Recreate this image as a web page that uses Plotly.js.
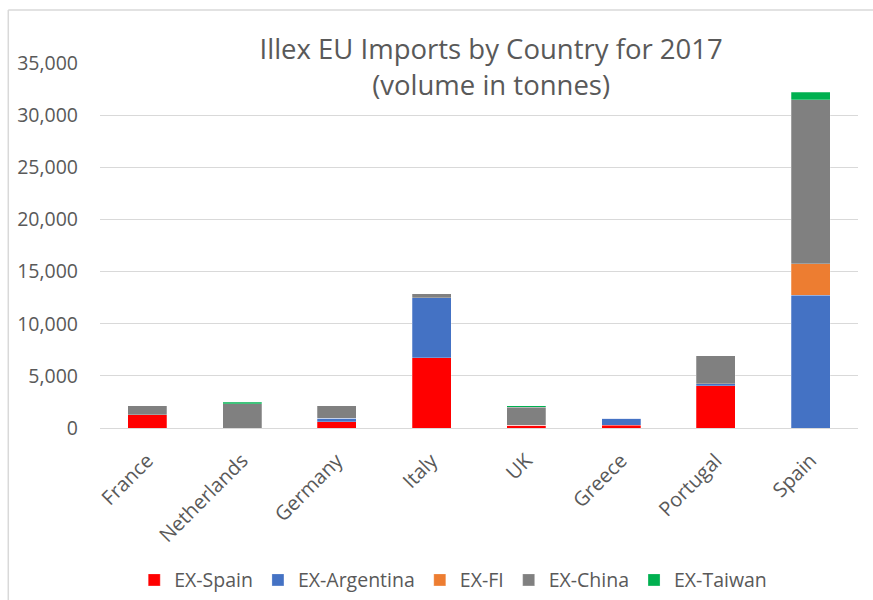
<!DOCTYPE html>
<html>
<head>
<meta charset="utf-8">
<script src="https://cdn.plot.ly/plotly-3.0.1.min.js"></script>
<style>html,body{margin:0;padding:0;background:#fff;}#chart{width:873px;height:600px;}</style>
</head>
<body>
<div id="chart"></div>
<script>
var countries = ["France", "Netherlands", "Germany", "Italy", "UK", "Greece", "Portugal", "Spain"];
var exSpain     = [1280, 0, 610, 6750, 250, 250, 4030, 0];
var exArgentina = [0, 0, 320, 5750, 0, 680, 190, 12720];
var exFI        = [0, 0, 0, 0, 0, 0, 0, 3040];
var exChina     = [870, 2340, 1220, 390, 1760, 0, 2720, 15730];
var exTaiwan    = [0, 120, 0, 0, 140, 0, 0, 700];
var seriesNames = ["EX-Spain", "EX-Argentina", "EX-FI", "EX-China", "EX-Taiwan"];
var seriesColors = ["#FF0000", "#4472C4", "#ED7D31", "#808080", "#00B050"];
var tickVals = [0, 5000, 10000, 15000, 20000, 25000, 30000, 35000];

var allSeries = [exSpain, exArgentina, exFI, exChina, exTaiwan];
var traces = allSeries.map(function (vals, i) {
  return {
    type: "bar",
    name: seriesNames[i],
    x: countries,
    y: vals,
    marker: { color: seriesColors[i], line: { color: "rgba(255,255,255,0.5)", width: 0.5 } },
    hoverinfo: "x+y+name"
  };
});

var font = "Open Sans, Noto Sans, sans-serif";
var layout = {
  width: 873, height: 600,
  barmode: "stack",
  bargap: 0.59,
  paper_bgcolor: "#fff", plot_bgcolor: "#fff",
  margin: { l: 100, r: 15, t: 63, b: 172 },
  font: { family: font, color: "#595959" },
  title: {
    text: "Illex EU Imports by Country for 2017<br>(volume in tonnes)",
    font: { family: font, size: 27.5, color: "#595959" },
    x: 0.516, xanchor: "center", xref: "paper",
    y: 0.902, yanchor: "top", yref: "container"
  },
  xaxis: {
    type: "category",
    automargin: false,
    tickangle: -45,
    tickfont: { size: 20, color: "#595959" },
    showgrid: false,
    showline: true, linecolor: "#D9D9D9", linewidth: 1,
    ticks: "", ticklabelstandoff: 12
  },
  yaxis: {
    automargin: false,
    range: [0, 35000],
    tickvals: tickVals,
    tickformat: ",d",
    tickfont: { size: 19.5, color: "#595959" },
    gridcolor: "#D9D9D9", gridwidth: 1,
    zeroline: false, showline: false,
    ticks: "", ticklabelstandoff: 21
  },
  legend: {
    orientation: "h",
    x: 0.466, xanchor: "center",
    y: 0.033, yanchor: "middle", yref: "container",
    font: { size: 19.5, color: "#595959" },
    traceorder: "normal",
    itemwidth: 30
  },
  shapes: [
    { type: "line", xref: "paper", yref: "paper", x0: -0.121, x1: 1.03, y0: 1.145, y1: 1.145, line: { color: "#D9D9D9", width: 1.5 } },
    { type: "line", xref: "paper", yref: "paper", x0: -0.121, x1: -0.121, y0: 1.145, y1: -0.5, line: { color: "#D9D9D9", width: 1.5 } }
  ],
  showlegend: true
};

Plotly.newPlot("chart", traces, layout, { displayModeBar: false, staticPlot: true });
</script>
</body>
</html>
